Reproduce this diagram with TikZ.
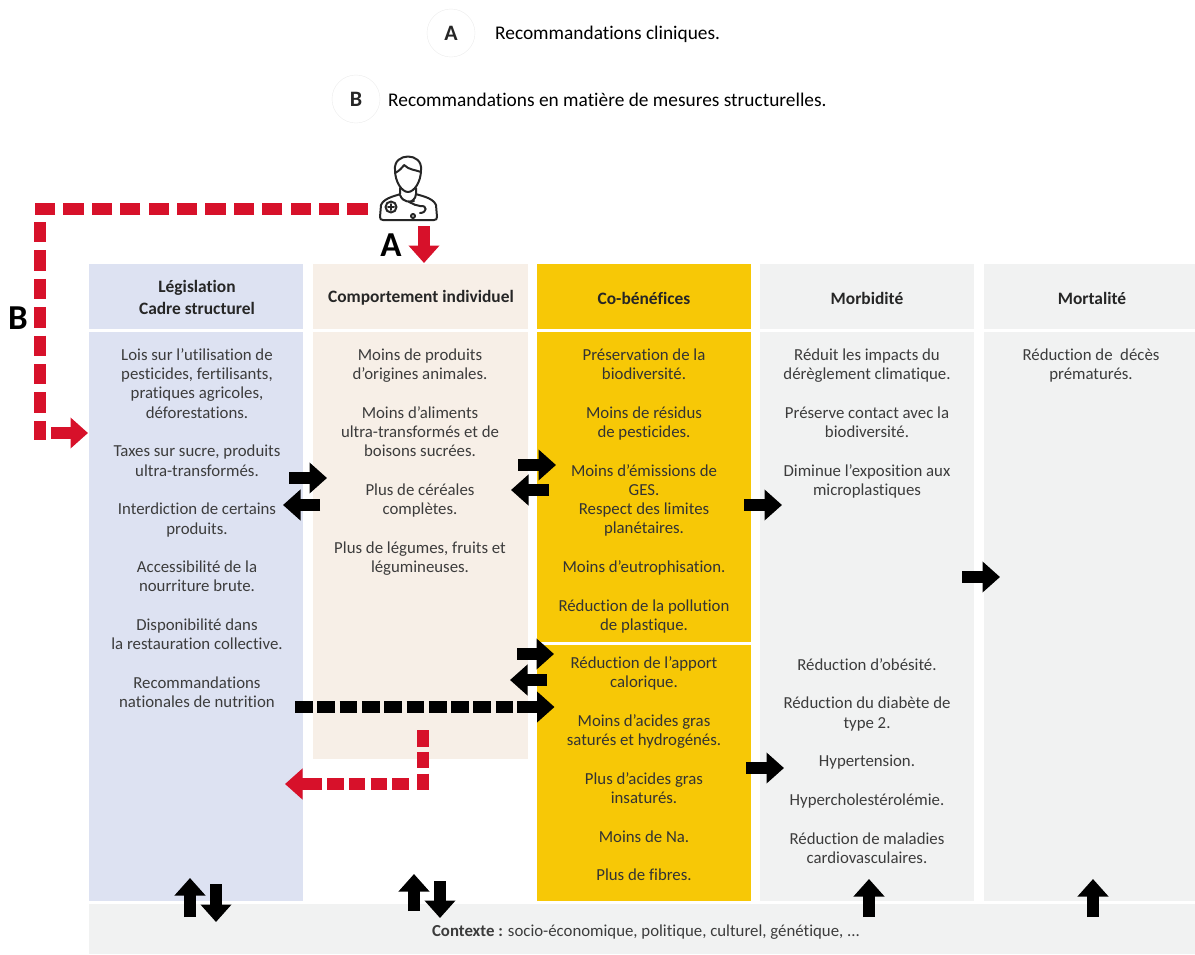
\documentclass[tikz,border=0pt]{standalone}
\usepackage{fontspec}
\setmainfont[Ligatures=NoCommon]{Carlito}
\usetikzlibrary{arrows.meta,positioning}
\definecolor{legiblue}{HTML}{DDE2F2}
\definecolor{behavbeige}{HTML}{F7EFE7}
\definecolor{cobenyellow}{HTML}{F7C806}
\definecolor{morbgray}{HTML}{F1F2F2}
\definecolor{alertred}{HTML}{D7112A}
\definecolor{bodygray}{HTML}{3C3C3C}
\tikzset{panel/.style={inner sep=0pt, minimum width=214.5pt},
  headtext/.style={font=\fontsize{17.4}{22}\selectfont\bfseries, align=center, text=black!85},
  bodytext/.style={font=\fontsize{16.8}{19.3}\selectfont, align=center, anchor=north, text=bodygray},
  legendcircle/.style={circle, draw=black!8, minimum size=48pt, inner sep=0pt, font=\fontsize{22}{22}\selectfont\bfseries, text=black!85},
  legendtext/.style={font=\fontsize{19.35}{20}\selectfont, anchor=west, inner sep=0pt},
  bigletter/.style={font=\fontsize{35}{36}\selectfont\bfseries, inner sep=0pt},
  blockarrow/.style={line width=12.5pt, black, -{Triangle[length=17.5pt,width=30pt]}},
  blackdash/.style={line width=12.5pt, black, dash pattern=on 17.7pt off 4.6pt},
  reddash/.style={line width=12pt, alertred, dash pattern=on 20.3pt off 8.1pt},
  redshortdash/.style={line width=11.5pt, alertred, dash pattern=on 16.5pt off 5.3pt},
  redarrow/.style={line width=12pt, alertred, -{Triangle[length=17.5pt,width=30pt]}}}
\begin{document}
\begin{tikzpicture}[x=1pt, y=-1pt]
        \useasboundingbox (0,0) rectangle (1195,954);
        % legend
        \node[legendcircle] (circA) at (451,33) {A};
        \node[legendcircle] (circB) at (356,99) {B};
        \node[legendtext] (legA) at (495,34) {Recommandations cliniques.};
        \node[legendtext] (legB) at (388,100) {Recommandations en matière de mesures structurelles.};

        % panels
        \node[panel, fill=legiblue, minimum height=65pt] (head1) at (196,296.5) {};
        \node[panel, fill=behavbeige, minimum height=65pt] (head2) at (420.5,296.5) {};
        \node[panel, fill=cobenyellow, minimum height=65pt] (head3) at (644,296.5) {};
        \node[panel, fill=morbgray, minimum height=65pt] (head4) at (867,296.5) {};
        \node[panel, fill=morbgray, minimum height=65pt] (head5) at (1091,296.5) {};
        \node[panel, fill=legiblue, minimum height=569pt] (body1) at (196,616.5) {};
        \node[panel, fill=behavbeige, minimum height=427pt] (body2) at (420.5,545.5) {};
        \node[panel, fill=cobenyellow, minimum height=310pt] (body3a) at (644,487) {};
        \node[panel, fill=cobenyellow, minimum height=256pt] (body3b) at (644,773) {};
        \node[panel, fill=morbgray, minimum height=569pt] (body4) at (867,616.5) {};
        \node[panel, fill=morbgray, minimum height=569pt] (body5) at (1091,616.5) {};
        \node[panel, fill=morbgray, minimum width=1106pt, minimum height=50pt] (context) at (642,929) {};

        % titles
        \node[headtext] (title1) at (197,297) {Législation\\Cadre structurel};
        \node[headtext] (title2) at (421,298) {Comportement individuel};
        \node[headtext] (title3) at (644,298) {Co-bénéfices};
        \node[headtext] (title4) at (867,298) {Morbidité};
        \node[headtext] (title5) at (1092,298) {Mortalité};

        % texts
        \node[bodytext] (text1) at (197,345) {Lois sur l’utilisation de\\pesticides, fertilisants,\\pratiques agricoles,\\déforestations.\\[19.3pt]
          Taxes sur sucre, produits\\ultra-transformés.\\[19.3pt]
          Interdiction de certains\\produits.\\[19.3pt]
          Accessibilité de la\\nourriture brute.\\[19.3pt]
          Disponibilité dans\\la restauration collective.\\[19.3pt]
          Recommandations\\nationales de nutrition};
        \node[bodytext] (text2) at (420,345) {Moins de produits\\d’origines animales.\\[19.3pt]
          Moins d’aliments\\ultra-transformés et de\\boisons sucrées.\\[19.3pt]
          Plus de céréales\\complètes.\\[19.3pt]
          Plus de légumes, fruits et\\légumineuses.};
        \node[bodytext, text=black!80] (text3a) at (644,345) {Préservation de la\\biodiversité.\\[19.3pt]
          Moins de résidus\\de pesticides.\\[19.3pt]
          Moins d’émissions de\\GES.\\Respect des limites\\planétaires.\\[19.3pt]
          Moins d’eutrophisation.\\[19.3pt]
          Réduction de la pollution\\de plastique.};
        \node[bodytext, text=black!80] (text3b) at (644,653) {Réduction de l’apport\\calorique.\\[19.3pt]
          Moins d’acides gras\\saturés et hydrogénés.\\[19.3pt]
          Plus d’acides gras\\insaturés.\\[19.3pt]
          Moins de Na.\\[19.3pt]
          Plus de fibres.};
        \node[bodytext] (text4a) at (867,345) {Réduit les impacts du\\dérèglement climatique.\\[19.3pt]
          Préserve contact avec la\\biodiversité.\\[19.3pt]
          Diminue l’exposition aux\\microplastiques};
        \node[bodytext] (text4b) at (867,655) {Réduction d’obésité.\\[19.3pt]
          Réduction du diabète de\\type 2.\\[19.3pt]
          Hypertension.\\[19.3pt]
          Hypercholestérolémie.\\[19.3pt]
          Réduction de maladies\\cardiovasculaires.};
        \node[bodytext] (text5) at (1091,345) {Réduction de \ décès\\prématurés.};
        \node[font=\fontsize{16.8}{19}\selectfont, text=bodygray] (ctxt) at (646,932) {\textbf{Contexte :} socio-économique, politique, culturel, génétique, ...};

        % letters
        \node[bigletter] (letA) at (391,245) {A};
        \node[bigletter] (letB) at (18,318) {B};

        % doctor
        \coordinate (doctor) at (408,190);
        \begin{scope}[shift={(doctor)}, line width=2pt, black!85, line join=round, line cap=round]
          \draw (-13,-20) .. controls (-15,-38) and (15,-38) .. (13,-20)
                .. controls (13,-8) and (6,2) .. (0,2) .. controls (-6,2) and (-13,-8) .. (-13,-20);
          \draw (-13,-17) .. controls (-9,-19) and (-6,-22) .. (-4,-25) .. controls (1,-20) and (8,-20) .. (13,-18);
          \draw (-8,-2) -- (-8,4) .. controls (-8,5) and (-24,7) .. (-27,15) -- (-28,27)
                .. controls (-28,29) and (-27,30) .. (-25,30) -- (26,30)
                .. controls (28,30) and (29,29) .. (29,27) -- (28,15) .. controls (25,7) and (9,5) .. (8,4) -- (8,-2);
          \draw (-8,5) .. controls (-5,13) and (3,12) .. (6,11);
          \draw (8,4) .. controls (8,9) and (3,12) .. (1,12) .. controls (6,14) and (8,16) .. (12,16)
                .. controls (20,15) and (19,23) .. (12,23);
          \draw (5,26) circle (2pt);
          \draw (-17,17) circle (5.5pt);
          \draw (-20,17) -- (-14,17) (-17,14) -- (-17,20);
        \end{scope}

        % corners and ends of the connectors
        \coordinate (Bstart) at (367.6,209);
        \coordinate (Bhstart) at (33.8,209);
        \coordinate (Bvstart) at (40,222);
        \coordinate (Bdown) at (40,440);
        \coordinate (Bin) at (51.4,433);
        \coordinate (Bout) at (88,433);
        \coordinate (Ain) at (424,226);
        \coordinate (Aout) at (424,263);
        \coordinate (natstart) at (295,707);
        \coordinate (natmid) at (513,707);
        \coordinate (natin) at (517,707);
        \coordinate (natout) at (554.5,707);
        \coordinate (retstart) at (423,730);
        \coordinate (retcorner) at (423,790);
        \coordinate (retbend) at (411,784);
        \coordinate (retend) at (327,784);
        \coordinate (retin) at (322,784);
        \coordinate (retout) at (285,784);
        \coordinate (lb1s) at (289,478);
        \coordinate (lb1e) at (327,478);
        \coordinate (lb2s) at (320,505);
        \coordinate (lb2e) at (283,505);
        \coordinate (bc1s) at (518,465);
        \coordinate (bc1e) at (556,465);
        \coordinate (bc2s) at (549,490);
        \coordinate (bc2e) at (511,490);
        \coordinate (bc3s) at (517,654);
        \coordinate (bc3e) at (554,654);
        \coordinate (bc4s) at (547,680);
        \coordinate (bc4e) at (510,680);
        \coordinate (cm1s) at (744,505);
        \coordinate (cm1e) at (782,505);
        \coordinate (cm2s) at (746,768);
        \coordinate (cm2e) at (784,768);
        \coordinate (mm1s) at (962,577);
        \coordinate (mm1e) at (1000,577);
        \coordinate (up1s) at (190,917);
        \coordinate (up1e) at (190,878);
        \coordinate (dn1s) at (216,884);
        \coordinate (dn1e) at (216,922);
        \coordinate (up2s) at (414,911);
        \coordinate (up2e) at (414,874);
        \coordinate (dn2s) at (440,881);
        \coordinate (dn2e) at (440,918);
        \coordinate (up4s) at (869,917);
        \coordinate (up4e) at (869,879);
        \coordinate (up5s) at (1093,917);
        \coordinate (up5e) at (1093,879);

        \draw (Bstart) edge[reddash] (Bhstart)
              (Bvstart) edge[reddash] (Bdown)
              (Bin) edge[redarrow] (Bout)
              (Ain) edge[redarrow] (Aout)

              (natstart) edge[blackdash] (natmid)
              (natin) edge[blockarrow] (natout)

              (retstart) edge[redshortdash] (retcorner)
              (retend) edge[redshortdash] (retbend)
              (retin) edge[redarrow] (retout)

              (lb1s) edge[blockarrow] (lb1e)
              (lb2s) edge[blockarrow] (lb2e)

              (bc1s) edge[blockarrow] (bc1e)
              (bc2s) edge[blockarrow] (bc2e)
              (bc3s) edge[blockarrow] (bc3e)
              (bc4s) edge[blockarrow] (bc4e)

              (cm1s) edge[blockarrow] (cm1e)
              (cm2s) edge[blockarrow] (cm2e)
              (mm1s) edge[blockarrow] (mm1e)

              (up1s) edge[blockarrow] (up1e)
              (dn1s) edge[blockarrow] (dn1e)
              (up2s) edge[blockarrow] (up2e)
              (dn2s) edge[blockarrow] (dn2e)
              (up4s) edge[blockarrow] (up4e)
              (up5s) edge[blockarrow] (up5e);
\end{tikzpicture}
\end{document}
